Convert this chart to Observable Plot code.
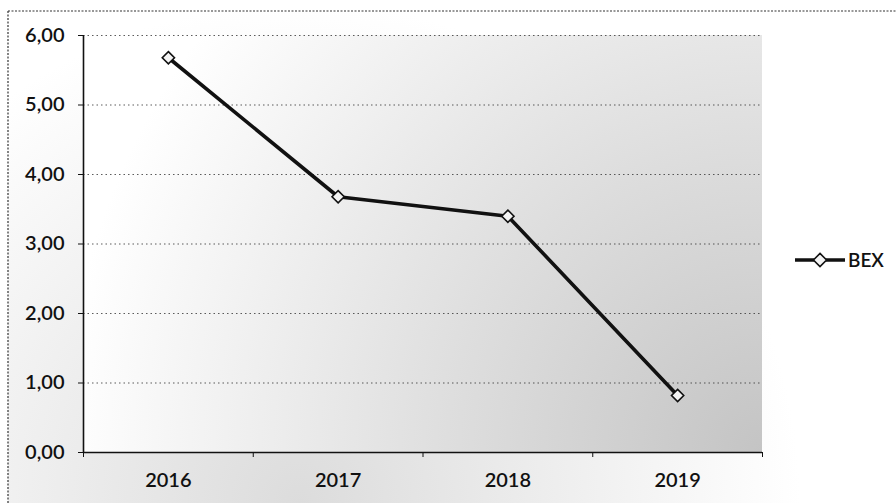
<!DOCTYPE html>
<html>
<head>
<meta charset="utf-8">
<script src="https://cdn.jsdelivr.net/npm/d3@7"></script>
<script src="https://cdn.jsdelivr.net/npm/@observablehq/plot@0.6"></script>
<style>
  html, body { margin: 0; padding: 0; background: #fff; }
  #chart { width: 896px; height: 503px; overflow: hidden; }
</style>
</head>
<body>
<div id="chart"></div>
<script>
// Data
const years = [2016, 2017, 2018, 2019];
const bex = [5.68, 3.68, 3.40, 0.82];
const yTicks = [0, 1, 2, 3, 4, 5, 6];
const seriesName = "BEX";

const data = years.map((year, i) => ({year, value: bex[i]}));
const boundaries = [...years.map(y => y - 0.5), years[years.length - 1] + 0.5];
const fmt = d => d3.format(".2f")(d).replace(".", ",");

const W = 896, H = 503;
const mL = 83, mR = 134, mT = 35, mB = 51;
const FONT = "Lato, 'Open Sans', sans-serif";

const plot = Plot.plot({
  width: W,
  height: H,
  marginLeft: mL,
  marginRight: mR,
  marginTop: mT,
  marginBottom: mB,
  style: {fontFamily: FONT, fontSize: "20px", fontWeight: "600", color: "#111", background: "transparent"},
  x: {type: "linear", domain: [boundaries[0], boundaries[boundaries.length - 1]]},
  y: {domain: [0, 6]},
  marks: [
    Plot.gridY(yTicks, {stroke: "#333", strokeOpacity: 0.8, strokeDasharray: "1.5,3"}),
    Plot.axisY(yTicks, {tickFormat: fmt, tickSize: 5, tickPadding: 14, label: null, fontSize: 20, stroke: "#111"}),
    Plot.axisX(years, {tickSize: 0, tickPadding: 20, tickFormat: d => String(d), label: null, fontSize: 20}),
    Plot.axisX(boundaries, {tickSize: 5, tickFormat: () => "", label: null, stroke: "#111"}),
    Plot.ruleX([boundaries[0]], {stroke: "#111", strokeWidth: 1.6}),
    Plot.ruleY([0], {stroke: "#111", strokeWidth: 1.6}),
    Plot.line(data, {x: "year", y: "value", stroke: "#111", strokeWidth: 3.6}),
    Plot.dot(data, {x: "year", y: "value", symbol: "diamond2", r: 5.5, fill: "#f4f4f4", stroke: "#111", strokeWidth: 1.6})
  ]
});

document.getElementById("chart").appendChild(plot);

// Background shading (scanned stipple impression) and legend
const svg = d3.select(plot);
const defs = svg.insert("defs", ":first-child");
const rg = defs.append("radialGradient").attr("id", "bgGrad")
  .attr("gradientUnits", "userSpaceOnUse")
  .attr("cx", W - mR).attr("cy", H - mB).attr("r", 700);
rg.append("stop").attr("offset", "0").attr("stop-color", "#c4c4c4");
rg.append("stop").attr("offset", "0.45").attr("stop-color", "#dedede");
rg.append("stop").attr("offset", "1").attr("stop-color", "#ffffff");

const og = defs.append("radialGradient").attr("id", "outerGrad")
  .attr("gradientUnits", "userSpaceOnUse")
  .attr("cx", 300).attr("cy", H).attr("r", 500);
og.append("stop").attr("offset", "0").attr("stop-color", "#dcdcdc");
og.append("stop").attr("offset", "1").attr("stop-color", "#ffffff");

const bg = svg.insert("g", "defs + *");
bg.append("rect").attr("x", 8).attr("y", 11).attr("width", W - 8).attr("height", H - 11)
  .attr("fill", "url(#outerGrad)");
bg.append("rect").attr("x", mL).attr("y", mT).attr("width", W - mL - mR).attr("height", H - mT - mB)
  .attr("fill", "url(#bgGrad)");
bg.append("line").attr("x1", 8).attr("x2", W).attr("y1", 11).attr("y2", 11)
  .attr("stroke", "#333").attr("stroke-dasharray", "2,1.5").attr("stroke-width", 1.2);
bg.append("line").attr("x1", 8).attr("x2", 8).attr("y1", 11).attr("y2", H)
  .attr("stroke", "#333").attr("stroke-dasharray", "2,1.5").attr("stroke-width", 1.2);

const leg = svg.append("g").attr("transform", `translate(${W - mR + 33},${260})`);
leg.append("line").attr("x1", 0).attr("x2", 50).attr("y1", 0).attr("y2", 0)
  .attr("stroke", "#111").attr("stroke-width", 3.6);
leg.append("path").attr("d", d3.symbol(d3.symbolDiamond2, 110)())
  .attr("transform", "translate(25,0)")
  .attr("fill", "#f4f4f4").attr("stroke", "#111").attr("stroke-width", 1.6);
leg.append("text").attr("x", 53).attr("y", 0).attr("dy", "0.35em")
  .attr("text-anchor", "start")
  .attr("font-family", FONT).attr("font-size", 19).attr("font-weight", 600).attr("fill", "#111")
  .text(seriesName);
</script>
</body>
</html>
